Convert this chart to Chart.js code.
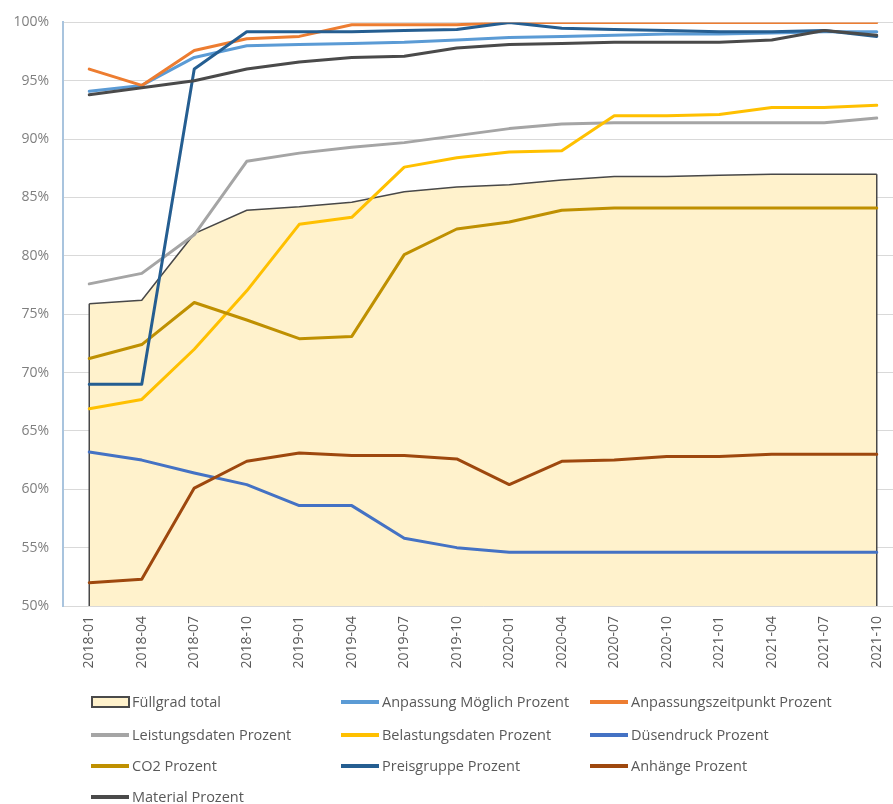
<!DOCTYPE html>
<html>
<head>
<meta charset="utf-8">
<script src="https://cdn.jsdelivr.net/npm/chart.js@4.4.1/dist/chart.umd.min.js"></script>
<style>
  html, body { margin: 0; padding: 0; overflow: hidden; background: #ffffff; width: 893px; height: 804px; }
  #wrap { position: absolute; left: 0; top: 0; width: 910px; height: 680px; }
  #legend { position: absolute; left: 0; top: 0; width: 893px; height: 804px; pointer-events: none;
            font-family: "Open Sans", "Liberation Sans", sans-serif; font-size: 14.5px; color: #595959; }
  .li { position: absolute; height: 20px; line-height: 20px; white-space: nowrap; }
  .sw-line { position: absolute; left: 0; top: 8px; width: 38px; height: 4px; }
  .sw-box { position: absolute; left: 0; top: 4px; width: 35px; height: 8px; border: 2px solid #4a4a4a; }
  .li span { position: absolute; left: 41px; top: 0; }
</style>
</head>
<body>
<div id="wrap"><canvas id="c" width="910" height="680"></canvas></div>
<div id="legend"></div>
<script>
const categories = ["2018-01","2018-04","2018-07","2018-10","2019-01","2019-04","2019-07","2019-10",
                    "2020-01","2020-04","2020-07","2020-10","2021-01","2021-04","2021-07","2021-10"];
const yTicks = [50,55,60,65,70,75,80,85,90,95,100];

const fuellgradTotal      = [75.9,76.2,81.9,83.9,84.2,84.6,85.5,85.9,86.1,86.5,86.8,86.8,86.9,87.0,87.0,87.0];
const anpassungMoeglich   = [94.1,94.6,97.0,98.0,98.1,98.2,98.3,98.5,98.7,98.8,98.9,99.0,99.0,99.1,99.2,99.2];
const anpassungszeitpunkt = [96.0,94.6,97.6,98.6,98.8,99.8,99.8,99.8,100,100,100,100,100,100,100,100];
const leistungsdaten      = [77.6,78.5,81.8,88.1,88.8,89.3,89.7,90.3,90.9,91.3,91.4,91.4,91.4,91.4,91.4,91.8];
const belastungsdaten     = [66.9,67.7,72.0,77.0,82.7,83.3,87.6,88.4,88.9,89.0,92.0,92.0,92.1,92.7,92.7,92.9];
const duesendruck         = [63.2,62.5,61.4,60.4,58.6,58.6,55.8,55.0,54.6,54.6,54.6,54.6,54.6,54.6,54.6,54.6];
const co2                 = [71.2,72.4,76.0,74.5,72.9,73.1,80.1,82.3,82.9,83.9,84.1,84.1,84.1,84.1,84.1,84.1];
const preisgruppe         = [69.0,69.0,96.0,99.2,99.2,99.2,99.3,99.4,100,99.5,99.4,99.3,99.2,99.2,99.3,98.8];
const anhaenge            = [52.0,52.3,60.1,62.4,63.1,62.9,62.9,62.6,60.4,62.4,62.5,62.8,62.8,63.0,63.0,63.0];
const material            = [93.8,94.4,95.0,96.0,96.6,97.0,97.1,97.8,98.1,98.2,98.3,98.3,98.3,98.5,99.3,98.9];

const seriesNames = ["Füllgrad total","Anpassung Möglich Prozent","Anpassungszeitpunkt Prozent",
  "Leistungsdaten Prozent","Belastungsdaten Prozent","Düsendruck Prozent",
  "CO2 Prozent","Preisgruppe Prozent","Anhänge Prozent","Material Prozent"];
const seriesData = [fuellgradTotal, anpassungMoeglich, anpassungszeitpunkt, leistungsdaten, belastungsdaten,
  duesendruck, co2, preisgruppe, anhaenge, material];
const seriesColors = ["#484848","#5B9BD5","#ED7D31","#A5A5A5","#FFC000","#4472C4","#BF9000","#255E91","#9E480E","#4A4A4A"];

const datasets = seriesNames.map((name, i) => {
  if (i === 0) {
    return { label: name, data: seriesData[i], type: 'line', fill: 'start',
      backgroundColor: '#FFF2CC', borderColor: seriesColors[i], borderWidth: 1.5,
      pointRadius: 0, tension: 0, order: 100 };
  }
  return { label: name, data: seriesData[i], type: 'line', fill: false,
    borderColor: seriesColors[i], backgroundColor: seriesColors[i], borderWidth: 3,
    pointRadius: 0, tension: 0, order: 50 - i, borderJoinStyle: 'round', borderCapStyle: 'round' };
});

const areaEdges = {
  id: 'areaEdges',
  afterDatasetDraw(chart, args) {
    if (args.index !== 0) return;
    const meta = chart.getDatasetMeta(0);
    const y0 = chart.scales.y.getPixelForValue(chart.scales.y.min);
    const ctx = chart.ctx;
    ctx.save();
    ctx.strokeStyle = seriesColors[0];
    ctx.lineWidth = 1.5;
    [meta.data[0], meta.data[meta.data.length - 1]].forEach(p => {
      ctx.beginPath(); ctx.moveTo(p.x, p.y); ctx.lineTo(p.x, y0); ctx.stroke();
    });
    ctx.restore();
  }
};

new Chart(document.getElementById('c'), {
  type: 'line',
  data: { labels: categories, datasets },
  plugins: [areaEdges],
  options: {
    responsive: false,
    animation: false,
    layout: { padding: { top: 15, right: 7, left: 0, bottom: 0 } },
    plugins: { legend: { display: false }, tooltip: { enabled: false } },
    scales: {
      x: {
        offset: true,
        grid: { display: false, drawTicks: false },
        border: { display: true, color: '#d9d9d9', width: 1 },
        ticks: { minRotation: 90, maxRotation: 90, autoSkip: false, padding: 10,
                 color: '#595959', font: { family: "Open Sans", size: 14 } },
        afterFit(s) { s.height = 74; }
      },
      y: {
        min: 50, max: 100,
        afterBuildTicks(s) { s.ticks = yTicks.map(v => ({ value: v })); },
        grid: { color: '#d9d9d9', drawTicks: false, lineWidth: 1 },
        border: { display: true, color: '#a9c4de', width: 2 },
        ticks: { padding: 14, color: '#7f7f7f', font: { family: "Open Sans", size: 14 },
                 callback: v => v + '%' },
        afterFit(s) { s.width = 63; }
      }
    }
  }
});

// HTML legend built from the dataset definitions
const legend = document.getElementById('legend');
const colX = [91, 341, 590];
const rowY = [702, 735, 766, 797];
seriesNames.forEach((name, i) => {
  const el = document.createElement('div');
  el.className = 'li';
  el.style.left = colX[i % 3] + 'px';
  el.style.top = (rowY[Math.floor(i / 3)] - 10) + 'px';
  const sw = document.createElement('div');
  if (i === 0) { sw.className = 'sw-box'; sw.style.background = '#FFF2CC'; }
  else { sw.className = 'sw-line'; sw.style.background = seriesColors[i]; }
  const t = document.createElement('span');
  t.textContent = name;
  el.appendChild(sw); el.appendChild(t);
  legend.appendChild(el);
});
</script>
</body>
</html>
